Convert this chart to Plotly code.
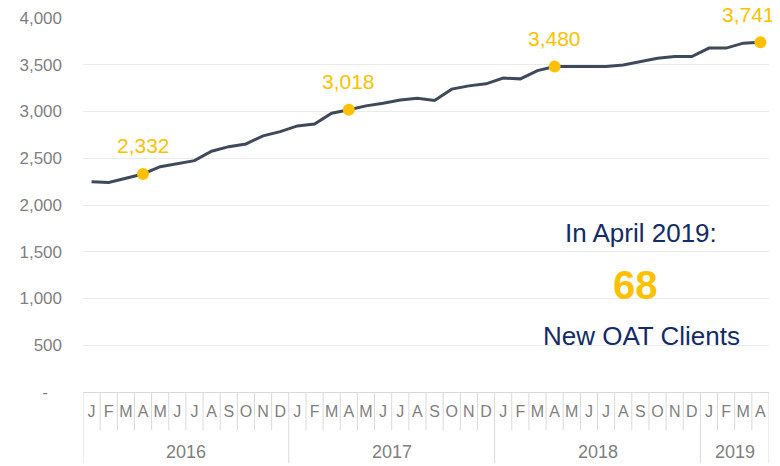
import plotly.graph_objects as go

# ---- data ----
years = ["2016"] * 12 + ["2017"] * 12 + ["2018"] * 12 + ["2019"] * 4
month_letters = ["J", "F", "M", "A", "M", "J", "J", "A", "S", "O", "N", "D"] * 3 + ["J", "F", "M", "A"]
clients = [
    2250, 2240, 2286, 2332, 2410, 2446, 2474, 2575, 2624, 2653, 2739, 2785,
    2846, 2867, 2982, 3018, 3060, 3089, 3124, 3142, 3117, 3239, 3274, 3296,
    3357, 3349, 3438, 3480, 3481, 3484, 3481, 3498, 3534, 3570, 3588, 3588,
    3678, 3678, 3731, 3741,
]
highlight_idx = [3, 15, 27, 39]          # each April
y_ticks = [0, 500, 1000, 1500, 2000, 2500, 3000, 3500, 4000]
callout_title = "In April 2019:"
new_clients = 68
callout_sub = "New OAT Clients"

FONT = "Arial, Liberation Sans, sans-serif"
GOLD = "#FFC000"
NAVY = "#132C66"
LINE = "#3E4A5B"
GRID = "#EBEBEB"
SEP = "#D9D9D9"
GREY = "#7F7F7F"

x = list(range(len(clients)))

fig = go.Figure()
fig.add_trace(go.Scatter(
    x=x, y=clients, mode="lines",
    line=dict(color=LINE, width=3),
    hoverinfo="skip", showlegend=False,
))
fig.add_trace(go.Scatter(
    x=[x[i] for i in highlight_idx], y=[clients[i] for i in highlight_idx],
    mode="markers", marker=dict(color=GOLD, size=12),
    hoverinfo="skip", showlegend=False, cliponaxis=False,
))

# value labels above highlighted points
for k, i in enumerate(highlight_idx):
    fig.add_annotation(
        x=x[i], y=clients[i], xref="x", yref="y",
        text=f"{clients[i]:,}", showarrow=False, xanchor="center",
        font=dict(family=FONT, size=21, color=GOLD),
        yshift=28, xshift=(-12 if k == len(highlight_idx) - 1 else 0),
    )

# month separators (short) and year separators (long)
month_bottom = -0.102
year_bottom = -0.19
for i in range(len(x) + 1):
    pos = i - 0.5
    is_year_edge = i == 0 or i == len(x) or years[i] != years[i - 1]
    fig.add_shape(
        type="line", xref="x", yref="paper",
        x0=pos, x1=pos, y0=0, y1=(year_bottom if is_year_edge else month_bottom),
        line=dict(color=SEP, width=1), layer="below",
    )

# year labels
seen = []
for yv in years:
    if yv not in seen:
        seen.append(yv)
for yv in seen:
    idxs = [i for i, v in enumerate(years) if v == yv]
    fig.add_annotation(
        x=(idxs[0] + idxs[-1]) / 2, y=-0.161, xref="x", yref="paper",
        text=yv, showarrow=False, xanchor="center", yanchor="middle",
        font=dict(family=FONT, size=18, color=GREY),
    )

# callout text
fig.add_annotation(x=0.814, y=0.425, xref="paper", yref="paper", text=callout_title,
                   showarrow=False, xanchor="center", yanchor="middle",
                   font=dict(family=FONT, size=26, color=NAVY))
fig.add_annotation(x=0.805, y=0.286, xref="paper", yref="paper", text=f"<b>{new_clients}</b>",
                   showarrow=False, xanchor="center", yanchor="middle",
                   font=dict(family=FONT, size=40, color=GOLD))
fig.add_annotation(x=0.814, y=0.149, xref="paper", yref="paper", text=callout_sub,
                   showarrow=False, xanchor="center", yanchor="middle",
                   font=dict(family=FONT, size=26, color=NAVY))

tick_text = ["-\u00a0\u00a0\u00a0" if v == 0 else f"{v:,}" for v in y_ticks]

# page body has an 8px default margin, so the figure is 8px smaller each way
fig.update_layout(
    width=772, height=458,
    margin=dict(l=75, r=11, t=10, b=74, autoexpand=False),
    paper_bgcolor="white", plot_bgcolor="white",
    font=dict(family=FONT, color=GREY),
    xaxis=dict(
        range=[-0.5, len(x) - 0.5],
        tickmode="array", tickvals=x, ticktext=month_letters,
        tickfont=dict(family=FONT, size=16, color=GREY),
        ticks="", showgrid=False, zeroline=False,
        showline=True, linecolor=SEP, linewidth=1,
        ticklabelstandoff=5, automargin=False,
    ),
    yaxis=dict(
        range=[0, 4000],
        tickmode="array", tickvals=y_ticks, ticktext=tick_text,
        tickfont=dict(family=FONT, size=17, color=GREY),
        showgrid=True, gridcolor=GRID, gridwidth=1,
        zeroline=False, showline=False, ticks="",
        ticklabelstandoff=20, automargin=False,
    ),
)

fig.write_html("out.html")
